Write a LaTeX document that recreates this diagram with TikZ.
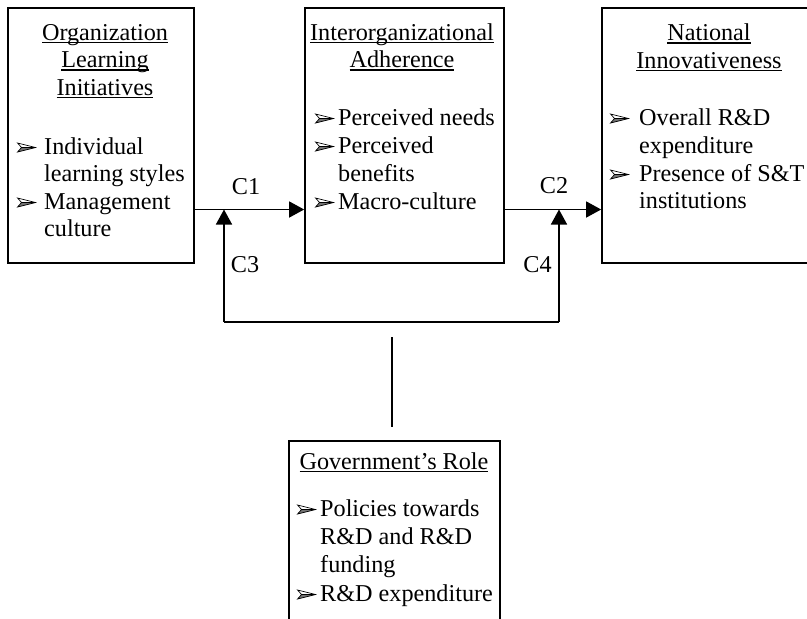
\documentclass[tikz,border=0pt]{standalone}
\usepackage{fontspec}
\setmainfont{Liberation Serif}
\usetikzlibrary{arrows.meta}

% underline at a fixed depth below the baseline
\newcommand{\ulword}[1]{\setbox0\hbox{#1}\rlap{\rule[-3pt]{\wd0}{1.1pt}}\box0}
% arrowhead bullet followed by a fixed indent
\newcommand{\bulmark}[1]{\makebox[#1][l]{\tikz[baseline=-6.5pt, x=1pt, y=1pt]{%
  \fill[black!55] (0,-4.5) -- (18,0) -- (4,0) -- cycle;
  \draw[line width=0.7pt, line join=miter] (0,4.5) -- (18,0) -- (0,-4.5) -- (4,0) -- cycle (4,0) -- (18,0);}}}

\begin{document}
\begin{tikzpicture}[x=1pt,y=-1pt,
  box/.style={draw, line width=1.7pt, inner sep=0pt},
  txt/.style={inner sep=0pt, font=\fontsize{24.2}{28}\selectfont},
  lbl/.style={inner sep=0pt, anchor=base, font=\fontsize{24.2}{28}\selectfont},
  conn/.style={line width=1.5pt},
  tip/.style={-{Triangle[length=15pt,width=16pt]}}]
\useasboundingbox (0,0) rectangle (807,619);
\clip (0,0) rectangle (807,619);

% boxes
\node[box, minimum width=186pt, minimum height=255pt] (org) at (101,135.5) {};
\node[box, minimum width=199pt, minimum height=255pt] (adh) at (404.5,135.5) {};
\node[box, minimum width=214pt, minimum height=255pt] (nat) at (709,135.5) {};
\node[box, minimum width=211pt, minimum height=199pt] (gov) at (394.5,540.5) {};

% organization learning initiatives
\node[txt, anchor=base] (orgT1) at (105,40) {\ulword{Organization}};
\node[txt, anchor=base] (orgT2) at (105,67.5) {\ulword{Learning}};
\node[txt, anchor=base] (orgT3) at (105,95) {\ulword{Initiatives}};
\node[txt, anchor=base west] (orgL1) at (17,154) {\bulmark{27pt}Individual};
\node[txt, anchor=base west] (orgL2) at (44,181.5) {learning styles};
\node[txt, anchor=base west] (orgL3) at (17,209) {\bulmark{27pt}Management};
\node[txt, anchor=base west] (orgL4) at (44,236.5) {culture};

% interorganizational adherence
\node[txt, anchor=base] (adhT1) at (402,40) {\ulword{Interorganizational}};
\node[txt, anchor=base] (adhT2) at (402,67.5) {\ulword{Adherence}};
\node[txt, anchor=base west] (adhL1) at (315,125) {\bulmark{23pt}Perceived needs};
\node[txt, anchor=base west] (adhL2) at (315,153) {\bulmark{23pt}Perceived};
\node[txt, anchor=base west] (adhL3) at (338,181) {benefits};
\node[txt, anchor=base west] (adhL4) at (315,209) {\bulmark{23pt}Macro-culture};

% national innovativeness
\node[txt, anchor=base] (natT1) at (709,40.5) {\ulword{National}};
\node[txt, anchor=base] (natT2) at (709,68) {\ulword{Innovativeness}};
\node[txt, anchor=base west] (natL1) at (610,125) {\bulmark{29pt}Overall R\&D};
\node[txt, anchor=base west] (natL2) at (639,153) {expenditure};
\node[txt, anchor=base west] (natL3) at (610,181) {\bulmark{29pt}Presence of S\&T};
\node[txt, anchor=base west] (natL4) at (639,208.5) {institutions};

% government's role
\node[txt, anchor=base] (govT1) at (394,469) {\ulword{Government's Role}};
\node[txt, anchor=base west] (govL1) at (297,516) {\bulmark{23pt}Policies towards};
\node[txt, anchor=base west] (govL2) at (320,544) {R\&D and R\&D};
\node[txt, anchor=base west] (govL3) at (320,572) {funding};
\node[txt, anchor=base west] (govL4) at (297,601) {\bulmark{23pt}R\&D expenditure};

% connectors
\coordinate (j1) at (224,209.5);
\coordinate (j2) at (559,209.5);
\coordinate (l1) at (224,322);
\coordinate (l2) at (559,322);
\coordinate (g1) at (392,337);
\coordinate (g2) at (392,427);

\draw[conn, tip] (org.east |- j1) -- (adh.west |- j1);
\draw[conn, tip] (adh.east |- j1) -- (nat.west |- j1);
\draw[conn] (l1) -- (l2);
\draw[conn, tip] (l1) -- (j1);
\draw[conn, tip] (l2) -- (j2);
\draw[conn] (g1) -- (g2);

% link labels
\node[lbl] (c1) at (246,194) {C1};
\node[lbl] (c2) at (554,193) {C2};
\node[lbl] (c3) at (245,272) {C3};
\node[lbl] (c4) at (537.5,272) {C4};
\end{tikzpicture}
\end{document}
